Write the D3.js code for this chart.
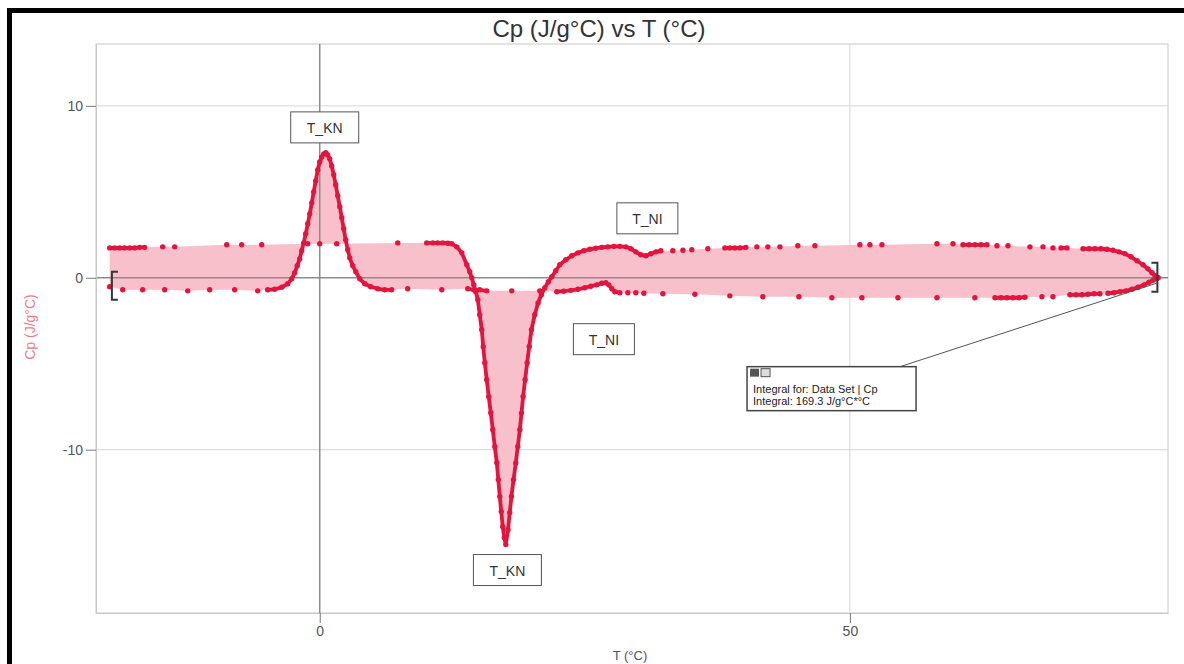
<!DOCTYPE html>
<html>
<head>
<meta charset="utf-8">
<script src="https://cdn.jsdelivr.net/npm/d3@7/dist/d3.min.js"></script>
<style>
  body { margin: 0; background: #fff; }
  svg { display: block; font-family: "Liberation Sans", Arial, sans-serif; }
</style>
</head>
<body>
<div id="chart"></div>
<script>
// upper branch of the loop (T in °C, Cp in J/g°C), read left to right
var upperT = [-19.81, -19.34, -18.87, -18.40, -17.92, -17.45, -16.98, -16.51, -14.81, -13.68,
  -8.77, -7.36, -5.47, -1.13, 0, 1.60, 7.36, 10.09, 10.66, 11.13, 11.60, 12.08, 12.45, 12.92,
  13.40, 13.87, 14.15, 14.34, 14.53, 14.72, 14.91, 15.09, 15.28, 15.42, 15.57, 15.75, 15.94,
  16.13, 16.32, 16.51, 16.70, 16.84, 16.98, 17.12, 17.26, 17.41, 17.55, 17.76, 17.92, 18.08,
  18.28, 18.49, 18.68, 18.87, 19.03, 19.18, 19.37, 19.56, 19.76, 19.97, 20.28, 20.59, 20.90,
  21.23, 21.56, 21.89, 22.26, 22.64, 23.21, 23.77, 24.34, 24.91, 25.47, 26.04, 26.60, 27.17,
  27.74, 28.30, 28.87, 29.34, 29.81, 30.28, 30.75, 31.23, 31.70, 32.17, 33.30, 34.25, 35.09,
  36.60, 38.21, 38.68, 39.15, 39.62, 40.19, 41.23, 42.26, 43.40, 45.09, 46.70, 50.94, 51.89,
  53.02, 58.21, 59.72, 60.66, 61.23, 61.79, 62.36, 62.92, 63.87, 64.91, 66.98, 68.21, 69.15,
  69.91, 70.47, 71.98, 72.55, 73.11, 73.68, 74.25, 74.81, 75.38, 75.94, 76.51, 77.08, 77.64,
  78.11, 78.49, 78.77, 79.06];
var upperCp = [1.74, 1.74, 1.74, 1.74, 1.74, 1.74, 1.77, 1.77, 1.80, 1.80,
  1.92, 1.92, 1.92, 1.98, 1.98, 1.98, 2.03, 2.03, 2.03, 2.03, 2.03, 2.01, 1.98, 1.80,
  1.45, 0.76, 0.35, 0, -0.41, -0.81, -1.28, -2.15, -3.02, -4.01, -4.94, -5.93, -6.92,
  -7.85, -8.84, -9.83, -10.76, -11.74, -12.73, -13.60, -14.48, -15.12, -15.52, -14.65, -13.66, -12.72,
  -11.74, -10.77, -9.81, -8.84, -7.87, -6.90, -5.93, -4.96, -3.99, -3.02, -2.15, -1.47, -0.99,
  -0.58, -0.23, 0.06, 0.41, 0.76, 1.05, 1.28, 1.45, 1.57, 1.66, 1.72, 1.77, 1.80,
  1.83, 1.83, 1.80, 1.69, 1.51, 1.34, 1.28, 1.40, 1.51, 1.57, 1.57, 1.60, 1.63,
  1.69, 1.74, 1.74, 1.74, 1.74, 1.77, 1.80, 1.80, 1.80, 1.86, 1.86, 1.92, 1.92,
  1.92, 1.98, 1.98, 1.92, 1.92, 1.92, 1.92, 1.92, 1.86, 1.86, 1.80, 1.80, 1.74,
  1.74, 1.74, 1.69, 1.69, 1.69, 1.69, 1.66, 1.60, 1.51, 1.40, 1.22, 0.99, 0.76,
  0.52, 0.29, 0.12, 0];

// lower branch of the loop, read left to right
var lowerT = [-19.81, -18.58, -16.70, -14.62, -12.45, -10.38, -8.02, -5.85, -4.91, -4.25,
  -3.58, -3.02, -2.64, -2.36, -2.12, -1.89, -1.70, -1.51, -1.32, -1.13, -0.94, -0.75, -0.57,
  -0.38, -0.19, 0, 0.19, 0.38, 0.57, 0.75, 0.94, 1.13, 1.32, 1.51, 1.70, 1.89, 2.08, 2.26,
  2.45, 2.64, 2.83, 3.11, 3.40, 3.77, 4.25, 4.81, 5.47, 6.13, 6.79, 8.30, 11.51, 13.96, 14.53,
  15.09, 15.75, 18.11, 20.75, 22.36, 23.02, 23.68, 24.34, 25.00, 25.57, 26.13, 26.60, 26.98,
  27.26, 27.55, 27.83, 28.30, 29.06, 29.81, 30.57, 32.36, 35.38, 38.68, 41.79, 45.19, 48.30,
  51.13, 54.53, 58.21, 61.79, 63.68, 64.25, 64.81, 65.38, 65.94, 66.51, 68.11, 69.15, 70.75,
  71.32, 71.89, 72.45, 73.02, 73.58, 74.34, 74.91, 75.47, 76.04, 76.60, 77.17, 77.74, 78.21,
  78.58, 78.87, 79.06];
var lowerCp = [-0.52, -0.70, -0.70, -0.70, -0.76, -0.70, -0.70, -0.76, -0.70, -0.67,
  -0.55, -0.35, -0.06, 0.29, 0.70, 1.10, 1.57, 2.03, 2.56, 3.14, 3.72, 4.36, 5.00,
  5.64, 6.28, 6.74, 7.03, 7.21, 7.27, 7.15, 6.92, 6.51, 5.99, 5.41, 4.77, 4.13, 3.49, 2.85,
  2.21, 1.63, 1.16, 0.70, 0.35, -0.06, -0.35, -0.52, -0.64, -0.70, -0.70, -0.64, -0.70, -0.64, -0.70,
  -0.70, -0.76, -0.76, -0.76, -0.81, -0.78, -0.73, -0.67, -0.58, -0.49, -0.41, -0.32, -0.29,
  -0.41, -0.64, -0.81, -0.87, -0.87, -0.87, -0.90, -0.93, -0.96, -1.05, -1.10, -1.10, -1.16,
  -1.16, -1.16, -1.16, -1.16, -1.16, -1.16, -1.16, -1.16, -1.16, -1.13, -1.10, -1.10, -0.99,
  -0.99, -0.99, -0.96, -0.93, -0.93, -0.90, -0.87, -0.81, -0.76, -0.67, -0.55, -0.41, -0.26,
  -0.15, -0.06, 0];

var xMinorTicks = [-20, -10, 0, 10, 20, 30, 40, 50, 60, 70, 80];
var xMajorTicks = [0, 50];
var yMinorTicks = [-18, -16, -14, -12, -10, -8, -6, -4, -2, 0, 2, 4, 6, 8, 10, 12];
var yMajorTicks = [-10, 0, 10];

// peak labels: text and anchor (T, Cp)
var noteText = ['T_KN', 'T_KN', 'T_NI', 'T_NI'];
var noteT = [0.47, 17.7, 30.9, 26.8];
var noteCp = [8.72, -17.03, 3.43, -3.6];

var integralFrom = -19.6;
var integralTo = 79.0;
var integralLines = ['Integral for: Data Set | Cp', 'Integral: 169.3 J/g\u00b0C*\u00b0C'];

var width = 1184, height = 664;
var margin = { top: 44, right: 16, bottom: 51, left: 96 };
var curveColor = '#e3143d';

var svg = d3.select('#chart').append('svg')
  .attr('width', width)
  .attr('height', height);

var x = d3.scaleLinear().domain([-21.1, 80]).range([margin.left, width - margin.right]);
var y = d3.scaleLinear().domain([-19.5, 13.6]).range([height - margin.bottom, margin.top]);

var upper = upperT.map(function (t, i) { return [t, upperCp[i]]; });
var lower = lowerT.map(function (t, i) { return [t, lowerCp[i]]; });

// outer black frame (top and left visible)
svg.append('path')
  .attr('d', 'M9.5,' + height + 'V10.5H' + width)
  .attr('fill', 'none')
  .attr('stroke', '#000')
  .attr('stroke-width', 5);

// plot frame
svg.append('rect')
  .attr('x', x.range()[0])
  .attr('y', y.range()[1])
  .attr('width', x.range()[1] - x.range()[0])
  .attr('height', y.range()[0] - y.range()[1])
  .attr('fill', '#fff')
  .attr('stroke', '#c8c8c8');

// grid at major ticks
svg.selectAll('.hgrid')
  .data(yMajorTicks.filter(function (d) { return d !== 0; }))
  .enter().append('line')
  .attr('x1', x.range()[0]).attr('x2', x.range()[1])
  .attr('y1', function (d) { return y(d); }).attr('y2', function (d) { return y(d); })
  .attr('stroke', '#d6d6d6');
svg.selectAll('.vgrid')
  .data(xMajorTicks.filter(function (d) { return d !== 0; }))
  .enter().append('line')
  .attr('y1', y.range()[0]).attr('y2', y.range()[1])
  .attr('x1', function (d) { return x(d); }).attr('x2', function (d) { return x(d); })
  .attr('stroke', '#d6d6d6');

// integral area: closed loop of both branches
var loop = upper.concat(lower.slice().reverse());
svg.append('path')
  .attr('d', d3.line().x(function (d) { return x(d[0]); }).y(function (d) { return y(d[1]); })(loop) + 'Z')
  .attr('fill', '#f8c0cb')
  .attr('fill-rule', 'evenodd');

// zero lines
svg.append('line')
  .attr('x1', x.range()[0]).attr('x2', x.range()[1])
  .attr('y1', y(0)).attr('y2', y(0))
  .attr('stroke', '#8c8c8c').attr('stroke-width', 1.5);
svg.append('line')
  .attr('x1', x(0)).attr('x2', x(0))
  .attr('y1', y.range()[0]).attr('y2', y.range()[1])
  .attr('stroke', '#8c8c8c').attr('stroke-width', 1.5);

// axes
var fmt = function (d) { return String(d); };
var gx = svg.append('g').attr('transform', 'translate(0,' + y.range()[0] + ')');
gx.call(d3.axisBottom(x).tickValues(xMinorTicks).tickSize(5).tickSizeOuter(0).tickFormat(''));
gx.call(d3.axisBottom(x).tickValues(xMajorTicks).tickSize(10).tickSizeOuter(0).tickFormat(fmt));
var gy = svg.append('g').attr('transform', 'translate(' + x.range()[0] + ',0)');
gy.call(d3.axisLeft(y).tickValues(yMinorTicks).tickSize(5).tickSizeOuter(0).tickFormat(''));
gy.call(d3.axisLeft(y).tickValues(yMajorTicks).tickSize(10).tickSizeOuter(0).tickFormat(fmt));
svg.selectAll('.domain').attr('stroke', '#c8c8c8');
svg.selectAll('.tick line').attr('stroke', '#777');
svg.selectAll('.tick text')
  .attr('fill', '#555')
  .style('font-size', '14px')
  .style('font-family', '"Liberation Sans", Arial, sans-serif');

// the curve: dense runs joined, sparse samples left as dots
function drawBranch(pts) {
  var g = svg.append('g');
  for (var i = 1; i < pts.length; i++) {
    var x0 = x(pts[i - 1][0]), x1 = x(pts[i][0]);
    if (Math.abs(x1 - x0) < 7.5) {
      g.append('line')
        .attr('x1', x0).attr('y1', y(pts[i - 1][1]))
        .attr('x2', x1).attr('y2', y(pts[i][1]))
        .attr('stroke', curveColor)
        .attr('stroke-width', 3.8)
        .attr('stroke-linecap', 'round');
    }
  }
  g.selectAll('circle')
    .data(pts)
    .enter().append('circle')
    .attr('cx', function (d) { return x(d[0]); })
    .attr('cy', function (d) { return y(d[1]); })
    .attr('r', 2.7)
    .attr('fill', curveColor);
}
drawBranch(upper);
drawBranch(lower);

// integral limit brackets
function bracket(t, top, bottom, dir) {
  var bx = x(t);
  svg.append('path')
    .attr('d', 'M' + (bx + 6 * dir) + ',' + y(top) + 'H' + bx + 'V' + y(bottom) + 'H' + (bx + 6 * dir))
    .attr('fill', 'none')
    .attr('stroke', '#2f3a33')
    .attr('stroke-width', 2);
}
bracket(integralFrom, 0.35, -1.28, 1);
bracket(integralTo, 0.87, -0.81, -1);

// peak label boxes
noteText.forEach(function (txt, i) {
  var cx = x(noteT[i]), cy = y(noteCp[i]);
  var w = txt === 'T_KN' ? 68 : 61;
  svg.append('rect')
    .attr('x', cx - w / 2).attr('y', cy - 16)
    .attr('width', w).attr('height', 31)
    .attr('fill', '#fff')
    .attr('stroke', '#555');
  svg.append('text')
    .attr('x', cx).attr('y', cy + 5)
    .attr('text-anchor', 'middle')
    .style('font-size', '14px')
    .attr('fill', '#333')
    .text(txt);
});

// integral readout box with leader line
var ibx = x(40.3), iby = y(-5.17);
svg.append('line')
  .attr('x1', ibx + 153).attr('y1', iby)
  .attr('x2', x(integralTo)).attr('y2', y(-0.3))
  .attr('stroke', '#555');
svg.append('rect')
  .attr('x', ibx).attr('y', iby)
  .attr('width', 169).attr('height', 44)
  .attr('fill', '#fff')
  .attr('stroke', '#444')
  .attr('stroke-width', 1.5);
svg.append('rect')
  .attr('x', ibx + 3).attr('y', iby + 2).attr('width', 9).attr('height', 8).attr('fill', '#555');
svg.append('rect')
  .attr('x', ibx + 14).attr('y', iby + 2).attr('width', 9).attr('height', 8)
  .attr('fill', '#ddd').attr('stroke', '#555');
svg.selectAll('.ilabel')
  .data(integralLines)
  .enter().append('text')
  .attr('x', ibx + 6)
  .attr('y', function (d, i) { return iby + 26 + i * 12; })
  .style('font-size', '11px')
  .attr('fill', '#222')
  .text(function (d) { return d; });

// title and axis labels
svg.append('text')
  .attr('x', 599).attr('y', 37)
  .attr('text-anchor', 'middle')
  .style('font-size', '24px')
  .attr('fill', '#333')
  .text('Cp (J/g\u00b0C) vs T (\u00b0C)');
svg.append('text')
  .attr('x', 630).attr('y', 660)
  .attr('text-anchor', 'middle')
  .style('font-size', '13px')
  .attr('fill', '#555')
  .text('T (\u00b0C)');
svg.append('text')
  .attr('transform', 'translate(35,327)rotate(-90)')
  .attr('text-anchor', 'middle')
  .style('font-size', '14px')
  .attr('fill', '#f07a8c')
  .text('Cp (J/g\u00b0C)');
</script>
</body>
</html>
